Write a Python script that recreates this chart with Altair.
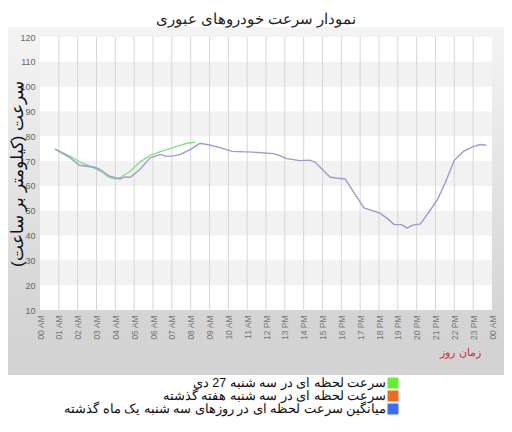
import altair as alt
import pandas as pd

title_text = "نمودار سرعت خودروهای عبوری"
y_title = "سرعت (کیلومتر بر ساعت)"
x_title = "زمان روز"

hour_ticks = list(range(25))
hour_labels = ["00 AM", "01 AM", "02 AM", "03 AM", "04 AM", "05 AM", "06 AM",
               "07 AM", "08 AM", "09 AM", "10 AM", "11 AM", "12 PM", "13 PM",
               "14 PM", "15 PM", "16 PM", "17 PM", "18 PM", "19 PM", "20 PM",
               "21 PM", "22 PM", "23 PM", "00 AM"]
speed_ticks = list(range(10, 121, 10))

# today (green)
today_hours = [0.8, 1.6, 2.1, 2.65, 3.2, 3.7, 4.0, 4.25, 4.8, 5.3, 5.85, 6.4,
               7.05, 7.45, 7.8, 8.25]
today_speed = [74.8, 72.0, 69.7, 68.0, 66.0, 63.3, 62.8, 63.3, 66.0, 69.6,
               72.3, 73.8, 75.4, 76.3, 77.2, 77.6]

# average of last month (lavender)
month_hours = [0.8, 1.6, 2.1, 2.9, 3.2, 3.7, 4.25, 4.5, 4.8, 5.3, 5.85, 6.4,
               6.65, 7.05, 7.45, 8.0, 8.5, 9.0, 9.56, 10.2, 11.3, 12.4, 12.7,
               13.1, 13.8, 14.3, 14.6, 15.4, 15.7, 16.2, 17.2, 18.05, 18.5,
               18.8, 19.2, 19.5, 19.75, 20.2, 20.8, 21.1, 21.5, 22.0, 22.5,
               23.0, 23.37, 23.7]
month_speed = [74.8, 71.3, 68.3, 67.5, 66.6, 63.9, 62.8, 63.6, 63.5, 66.6,
               71.3, 72.7, 72.0, 72.0, 72.7, 74.7, 77.2, 76.5, 75.4, 73.9,
               73.6, 73.0, 72.3, 71.0, 70.2, 70.4, 69.6, 63.6, 63.2, 62.8,
               51.1, 49.0, 46.5, 44.4, 44.4, 43.0, 44.1, 44.7, 51.1, 54.5,
               61.0, 70.3, 74.0, 75.8, 76.7, 76.4]

legend_names = ["سرعت لحظه ای در سه شنبه 27 دی",
                "سرعت لحظه ای در سه شنبه هفته گذشته",
                "میانگین سرعت لحظه ای در روزهای سه شنبه یک ماه گذشته"]
legend_colors = ["#66ee33", "#f26a1b", "#3a6cf4"]

band_lo = [20, 40, 60, 80, 100]
band_hi = [30, 50, 70, 90, 110]
grid_hours = list(range(1, 24))

W, H = 452, 273
xscale = alt.Scale(domain=[0, 24], nice=False, zero=False)
yscale = alt.Scale(domain=[10, 120], nice=False, zero=False)

label_expr = "[" + ",".join("'%s'" % s for s in hour_labels) + "][datum.value]"
x_axis = alt.Axis(values=hour_ticks, labelExpr=label_expr, labelAngle=-90,
                  labelFontSize=8.5, labelColor="#777", grid=False,
                  labelOverlap=False, labelBound=False,
                  domain=False, ticks=False, labelPadding=5, zindex=2,
                  title=x_title, titleColor="#d03030", titleFontSize=11,
                  titleFontWeight="normal", titleX=420, titleY=42,
                  titleBaseline="middle")

one = pd.DataFrame({"a": [0]})

bg = alt.Chart(one).mark_rect(
    fill=alt.LinearGradient(
        gradient="linear", x1=0, x2=0, y1=0, y2=1,
        stops=[alt.GradientStop(color="#f4f4f4", offset=0),
               alt.GradientStop(color="#d4d4d4", offset=0.85),
               alt.GradientStop(color="#d3d3d3", offset=1)])
).encode(x=alt.value(-32), x2=alt.value(W + 12), y=alt.value(-10), y2=alt.value(338))

plotbg = alt.Chart(one).mark_rect(fill="white").encode(
    x=alt.value(0), x2=alt.value(W), y=alt.value(0), y2=alt.value(H))

bands = alt.Chart(pd.DataFrame({"lo": band_lo, "hi": band_hi})).mark_rect(
    fill="#f2f2f2").encode(
    y=alt.Y("lo:Q", scale=yscale, axis=None), y2="hi:Q",
    x=alt.value(0), x2=alt.value(W))

vgrid = alt.Chart(pd.DataFrame({"h": grid_hours})).mark_rule(
    color="#d6d6d6", strokeWidth=1).encode(
    x=alt.X("h:Q", scale=xscale, axis=x_axis), y=alt.value(0), y2=alt.value(H))

month_line = alt.Chart(pd.DataFrame({"h": month_hours, "v": month_speed})).mark_line(
    color="#9c9ccf", strokeWidth=1.4).encode(
    x=alt.X("h:Q", scale=xscale, axis=x_axis),
    y=alt.Y("v:Q", scale=yscale,
            axis=alt.Axis(values=speed_ticks, grid=False, domain=False, ticks=False,
                          labelFontSize=9, labelColor="#666", labelPadding=5, zindex=2,
                          title=y_title, titleFontSize=16.5, titleFontWeight="normal",
                          titleColor="#111", titleX=-23, titleY=H / 2,
                          titleBaseline="middle")))

today_line = alt.Chart(pd.DataFrame({"h": today_hours, "v": today_speed})).mark_line(
    color="#86e086", strokeWidth=1.4).encode(
    x=alt.X("h:Q", scale=xscale, axis=x_axis),
    y=alt.Y("v:Q", scale=yscale, axis=None))

leg_df = pd.DataFrame({"i": [0, 1, 2], "name": legend_names, "color": legend_colors})
leg_y = alt.Y("i:O", axis=None, scale=alt.Scale(type="point", range=[346, 372], padding=0))

leg_sq = alt.Chart(leg_df).mark_square(size=120, opacity=1).encode(
    x=alt.value(353), y=leg_y, color=alt.Color("color:N", scale=None, legend=None))

leg_tx = alt.Chart(leg_df).mark_text(align="right", baseline="middle", fontSize=12.5,
                                     color="#111").encode(
    x=alt.value(346), y=leg_y, text="name:N")

chart = alt.layer(bg, plotbg, bands, vgrid, today_line, month_line, leg_sq, leg_tx).resolve_scale(
    y="independent").properties(
    width=W, height=H,
    title=alt.TitleParams(text=title_text, fontSize=15, fontWeight="normal",
                          color="#222", anchor="middle", offset=0, dx=-10),
    autosize=alt.AutoSizeParams(type="none"),
    padding={"left": 32, "top": 29, "right": 12, "bottom": 115},
).configure_view(stroke=None).configure(background="white")

chart.save("out.html", embed_options={"renderer": "svg", "actions": False})
